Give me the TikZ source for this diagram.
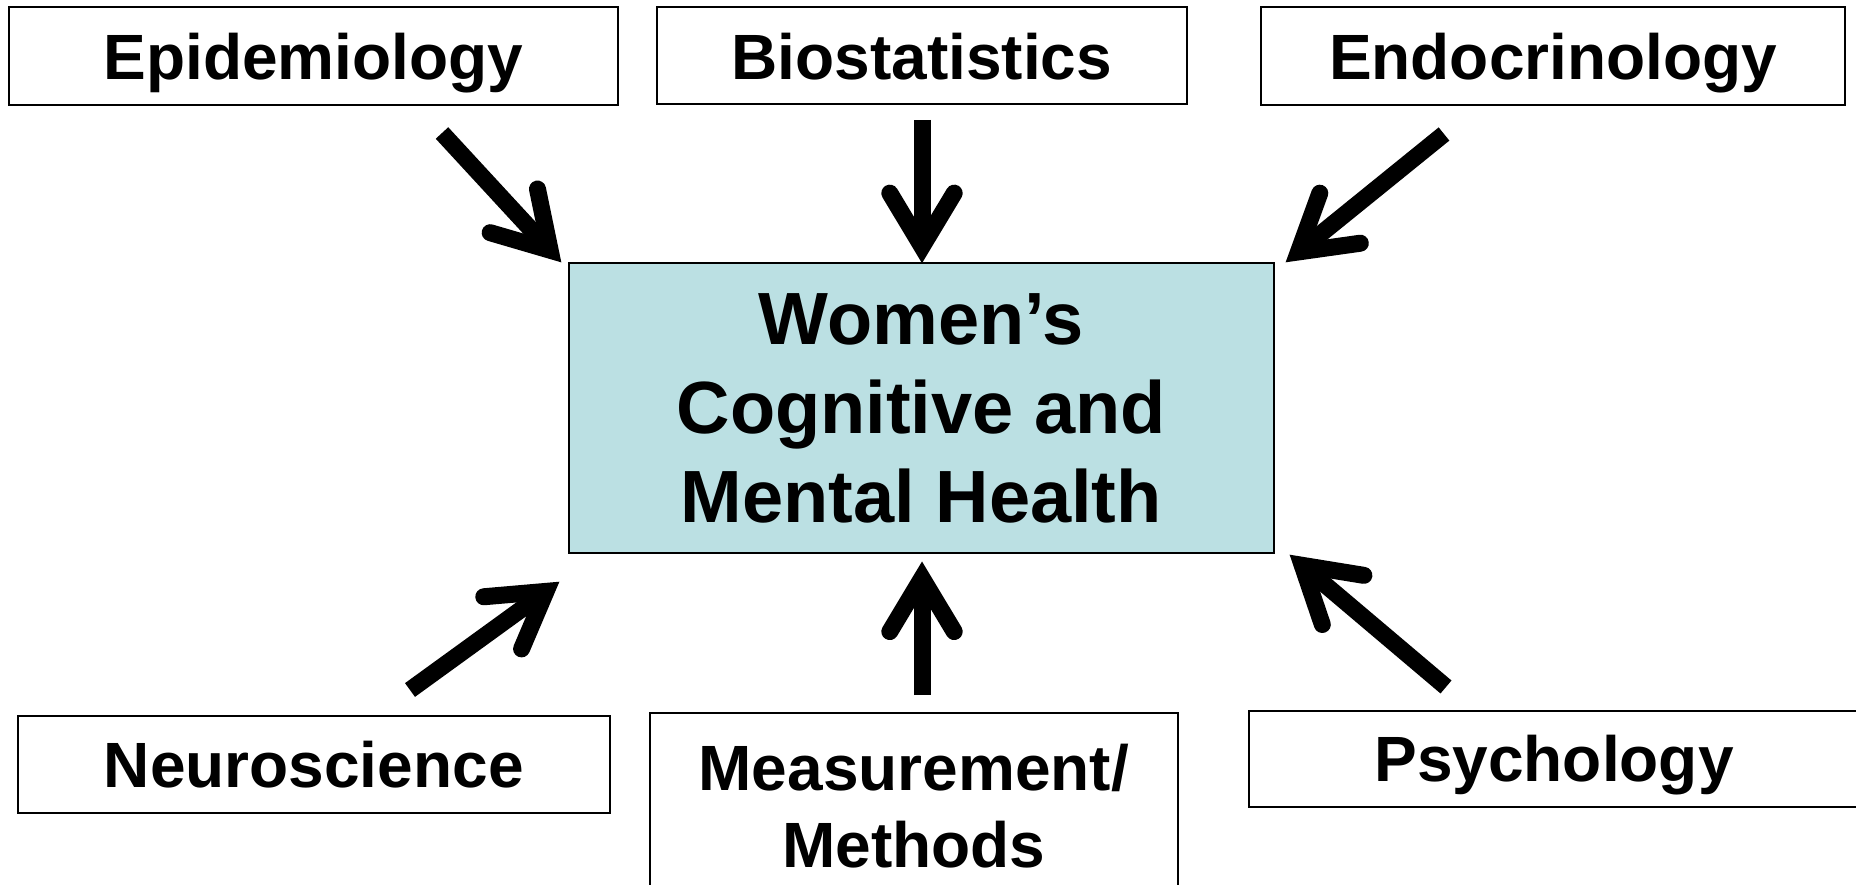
\documentclass[tikz,border=0pt]{standalone}
\usepackage{fontspec}
\setmainfont{Liberation Sans}
\usetikzlibrary{calc}
\definecolor{centerfill}{HTML}{BBE0E3}
\tikzset{
  box/.style={draw=black, line width=2pt, inner sep=0pt, fill=white, text depth=0pt,
    font=\fontsize{64}{77}\selectfont\bfseries, align=center},
  hub/.style={box, fill=centerfill, font=\fontsize{74}{89}\selectfont\bfseries},
  shaft/.style={line width=17pt, line cap=butt},
  barb/.style={line width=17pt, line cap=round, line join=miter, miter limit=20},
}
\newcommand\fatarrow[2]{%
  \coordinate (#2v) at ($(#2)!16pt!(#1)$);
  \draw[shaft] (#1) -- (#2v);
  \draw[barb] ($(#2v)!62.5pt!31:(#1)$) -- (#2v) -- ($(#2v)!62.5pt!-31:(#1)$);
}
\begin{document}
\begin{tikzpicture}[x=1pt, y=-1pt]
\useasboundingbox (0,0) rectangle (1856,885);
\fill[white] (0,0) rectangle (1856,885);
% nodes
\node[box, minimum width=609pt, minimum height=97.5pt] (epi) at (313.5,56.25) {Epidemiology};
\node[box, minimum width=529.5pt, minimum height=97pt] (bio) at (921.75,56) {Biostatistics};
\node[box, minimum width=584pt, minimum height=97.5pt] (endo) at (1553,56.25) {Endocrinology};
\node[hub, minimum width=704.6pt, minimum height=290pt] (hubnode) at (921.3,408.3) {Women’s\\Cognitive and\\Mental Health};
\node[box, minimum width=591.5pt, minimum height=97.3pt] (neuro) at (313.75,764.35) {Neuroscience};
\node[box, minimum width=527.7pt, minimum height=184.4pt] (meas) at (913.85,805.5) {Measurement/\\Methods};
\node[box, minimum width=610pt, minimum height=96pt] (psych) at (1554,758.7) {Psychology};
% arrow ends
\coordinate (s1) at (442,133);  \coordinate (t1) at (561,262);
\coordinate (s2) at (922,120);  \coordinate (t2) at (922,262.7);
\coordinate (s3) at (1444,134); \coordinate (t3) at (1286,262);
\coordinate (s4) at (410,690);  \coordinate (t4) at (559,582);
\coordinate (s5) at (922,695);  \coordinate (t5) at (922,562);
\coordinate (s6) at (1446,687); \coordinate (t6) at (1290,555);
\fatarrow{s1}{t1}
\fatarrow{s2}{t2}
\fatarrow{s3}{t3}
\fatarrow{s4}{t4}
\fatarrow{s5}{t5}
\fatarrow{s6}{t6}
\end{tikzpicture}
\end{document}
